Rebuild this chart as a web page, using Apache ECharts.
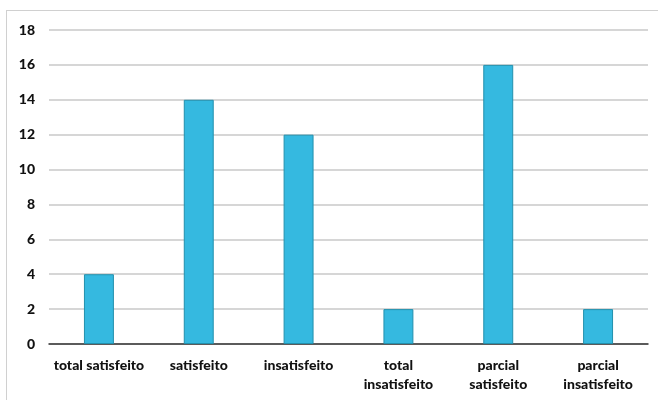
<!DOCTYPE html>
<html>
<head>
<meta charset="utf-8">
<script src="https://cdn.jsdelivr.net/npm/echarts@6/dist/echarts.min.js"></script>
<style>
  html, body { margin: 0; padding: 0; background: #fff; }
  #frame { position: absolute; left: 6px; top: 10px; width: 660px; height: 400px; border: 1px solid #d0d0d0; box-sizing: border-box; }
  #chart { position: absolute; left: 0; top: 0; width: 658px; height: 400px; }
</style>
</head>
<body>
<div id="frame"></div>
<div id="chart"></div>
<script>
  var categorias = ['total satisfeito', 'satisfeito', 'insatisfeito', 'total\ninsatisfeito', 'parcial\nsatisfeito', 'parcial\ninsatisfeito'];
  var valores = [4, 14, 12, 2, 16, 2];

  var option = {
    animation: false,
    textStyle: { fontFamily: 'Lato, Arial, sans-serif' },
    grid: { left: 49, right: 10, top: 30, bottom: 56 },
    xAxis: {
      type: 'category',
      data: categorias,
      axisTick: { show: false },
      axisLine: { lineStyle: { color: '#333', width: 1.5 } },
      axisLabel: { color: '#111', fontWeight: 900, fontSize: 14, margin: 12, lineHeight: 19, interval: 0 }
    },
    yAxis: {
      type: 'value',
      min: 0, max: 18, interval: 2,
      axisLine: { show: false },
      axisTick: { show: false },
      axisLabel: { color: '#111', fontWeight: 900, fontSize: 14, margin: 14 },
      splitLine: { lineStyle: { color: '#c8c8c8', width: 1.5 } }
    },
    series: [{
      type: 'bar',
      data: valores,
      barWidth: '30%',
      itemStyle: { color: '#35b9e0', borderColor: '#2290ad', borderWidth: 1 }
    }]
  };

  var myChart = echarts.init(document.getElementById('chart'));
  myChart.setOption(option);
</script>
</body>
</html>
